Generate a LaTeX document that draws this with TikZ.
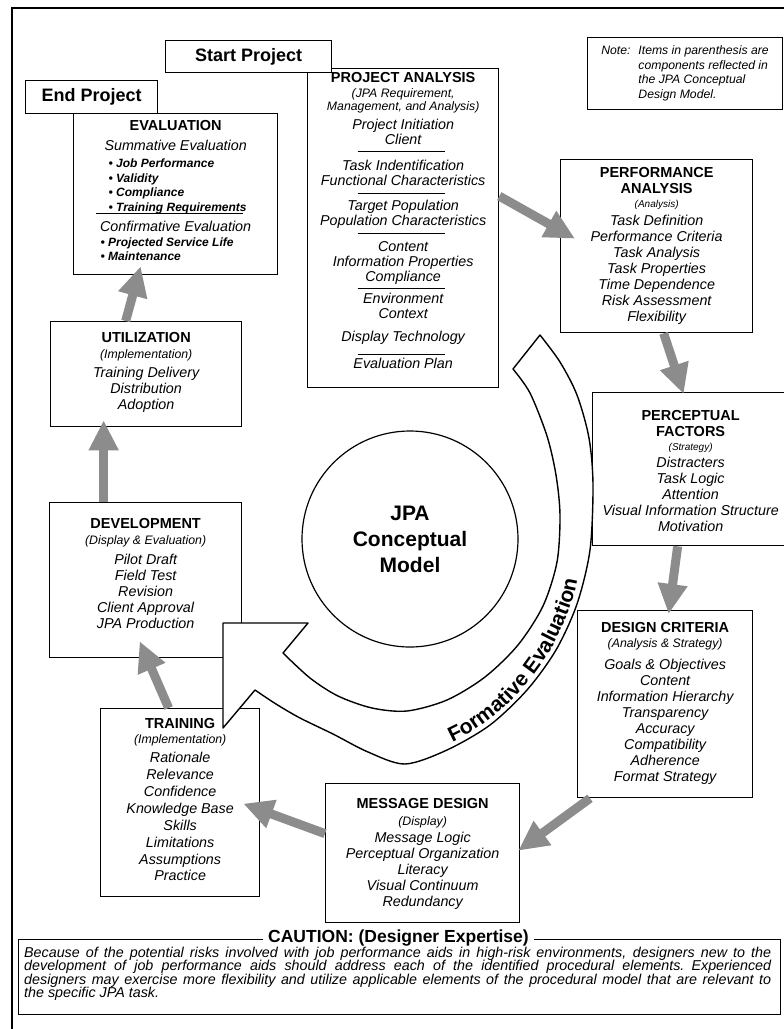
\documentclass[tikz,border=0pt]{standalone}
\usepackage{fontspec}
\setmainfont{Liberation Sans}
\usepackage{tikz}
\usetikzlibrary{arrows.meta,decorations.text}

\newcommand{\stage}[4]{\begin{minipage}[t][#2pt][t]{#1pt}\centering\vspace*{#3pt}#4\end{minipage}}
\newcommand{\hd}{\bfseries\fontsize{14.5}{16}\selectfont}
\newcommand{\pn}{\itshape\fontsize{12.3}{13}\selectfont}
\newcommand{\pns}{\itshape\fontsize{10}{14}\selectfont}
\newcommand{\its}{\itshape\fontsize{14.3}{16}\selectfont}
\newcommand{\itn}{\itshape\fontsize{14.3}{15}\selectfont}
\newcommand{\itw}{\itshape\fontsize{14.3}{16.9}\selectfont}
\newcommand{\bul}{\bfseries\itshape\fontsize{12}{14.5}\selectfont}
\newcommand{\leftblock}[2]{{\leftskip=#1pt\rightskip=0pt plus 1fil\parfillskip=0pt plus 1fil #2\par}}
\newcommand{\jline}[1]{\makebox[747pt][s]{#1}\par}

\begin{document}
\begin{tikzpicture}[x=1pt,y=-1pt,
  stagebox/.style={draw,fill=white,line width=1.3pt,inner sep=0pt,anchor=north west},
  tagbox/.style={draw,fill=white,line width=1.3pt,anchor=north west,font=\bfseries\fontsize{18}{20}\selectfont},
  sepline/.style={line width=0.8pt},
  shadearrow/.style={draw=black!45,line width=9pt,-{Triangle[width=28pt,length=30pt]}}]
\useasboundingbox (0,0) rectangle (784,1029);
\clip (0,0) rectangle (784,1029);

\draw[line width=2pt] (790,8) -- (12,8) -- (12,1035);

\node[stagebox] (pa) at (307,68) {\stage{191}{319}{4}{%
{\hd PROJECT ANALYSIS\par}
\vspace{2pt}{\pn (JPA Requirement,\\Management, and Analysis)\par}
\vspace{4pt}{\itn Project Initiation\\Client\par}
\vspace{11pt}{\itn Task Indentification\\Functional Characteristics\par}
\vspace{10pt}{\itn Target Population\\Population Characteristics\par}
\vspace{11pt}{\itn Content\\Information Properties\\Compliance\par}
\vspace{7pt}{\itn Environment\\Context\par}
\vspace{8pt}{\itn Display Technology\par}
\vspace{12pt}{\itn Evaluation Plan\par}}};
\draw[sepline] ([xshift=-45.5pt,yshift=-83pt]pa.north) -- ++(87,0);
\draw[sepline] ([xshift=-45.5pt,yshift=-125pt]pa.north) -- ++(87,0);
\draw[sepline] ([xshift=-45.5pt,yshift=-165pt]pa.north) -- ++(87,0);
\draw[sepline] ([xshift=-45.5pt,yshift=-220pt]pa.north) -- ++(87,0);
\draw[sepline] ([xshift=-45.5pt,yshift=-286pt]pa.north) -- ++(87,0);

\node[stagebox] (ev) at (73,113) {\stage{204}{161}{7}{%
{\hd EVALUATION\par}
\vspace{4pt}{\its Summative Evaluation\par}
\vspace{2.5pt}\leftblock{35}{\bul • Job Performance\\• Validity\\• Compliance\\• Training Requirements}
\vspace{4pt}{\its Confirmative Evaluation\par}
\vspace{0.5pt}\leftblock{27}{\bul • Projected Service Life\\• Maintenance}}};
\draw[sepline] ([xshift=-80pt,yshift=-100pt]ev.north) -- ++(147,0);

\node[stagebox] (perf) at (560,159) {\stage{192}{173}{8}{%
{\hd PERFORMANCE\\ANALYSIS\par}
{\pns (Analysis)\par}
\vspace{2pt}{\its Task Definition\\Performance Criteria\\Task Analysis\\Task Properties\\Time Dependence\\Risk Assessment\\Flexibility\par}}};

\node[stagebox] (ut) at (50,321) {\stage{191}{105}{11}{%
{\hd UTILIZATION\par}
\vspace{3pt}{\pn (Implementation)\par}
\vspace{3pt}{\its Training Delivery\\Distribution\\Adoption\par}}};

\node[stagebox] (pf) at (592,392) {\stage{196}{153}{18}{%
{\hd PERCEPTUAL\\FACTORS\par}
{\pns (Strategy)\par}
\vspace{1pt}{\its Distracters\\Task Logic\\Attention\\Visual Information Structure\\Motivation\par}}};

\node[stagebox] (dev) at (49,502) {\stage{192}{155}{16}{%
{\hd DEVELOPMENT\par}
\vspace{3pt}{\pn (Display \& Evaluation)\par}
\vspace{4pt}{\its Pilot Draft\\Field Test\\Revision\\Client Approval\\JPA Production\par}}};

\node[stagebox] (dc) at (577,610) {\stage{175}{187}{12}{%
{\hd DESIGN CRITERIA\par}
\vspace{2pt}{\pn (Analysis \& Strategy)\par}
\vspace{6pt}{\its Goals \& Objectives\\Content\\Information Hierarchy\\Transparency\\Accuracy\\Compatibility\\Adherence\\Format Strategy\par}}};

\node[stagebox] (md) at (325,783) {\stage{194}{139}{15}{%
{\hd MESSAGE DESIGN\par}
\vspace{4pt}{\pn (Display)\par}
\vspace{1pt}{\its Message Logic\\Perceptual Organization\\Literacy\\Visual Continuum\\Redundancy\par}}};

\node[stagebox] (tr) at (100,708) {\stage{159}{188}{10}{%
{\hd TRAINING\par}
\vspace{2pt}{\pn (Implementation)\par}
\vspace{2pt}{\itw Rationale\\Relevance\\Confidence\\Knowledge Base\\Skills\\Limitations\\Assumptions\\Practice\par}}};

\node[draw,line width=1pt,anchor=north west,minimum width=195pt,minimum height=72pt,
  font=\itshape\fontsize{12.2}{14.5}\selectfont] (note) at (587,37)
  {\begin{tabular}{@{}l@{\hspace{8pt}}l@{}}Note: & Items in parenthesis are\\ & components reflected in\\ & the JPA Conceptual\\ & Design Model.\end{tabular}};

\node[tagbox,minimum width=166pt,minimum height=32pt] (start) at (165,40) {Start Project};
\node[tagbox,minimum width=132pt,minimum height=33pt] (end) at (25,80) {End Project};

\filldraw[fill=white,line width=1.4pt,line join=round] (513,369) -- plot[smooth] coordinates {(540,335) (560,362) (577,395) (589,438) (593,485) (590,550) (577,604) (556,650) (527,690) (490,725) (447,750) (405,764) (368,752) (333,734) (300,718) (276,704) (255,690)}
  -- (223,728) -- (223,623) -- (308,623)
  -- plot[smooth] coordinates {(283,653) (310,678) (338,696) (372,708) (407,711) (447,700) (485,677) (518,645) (543,606) (557,562) (560,515) (556,475) (547,436) (530,393) (513,369)} -- cycle;
\path[decorate,decoration={text along path,text align=center,
  text={|\bfseries\fontsize{21}{21}\selectfont|Formative Evaluation}}]
  plot[smooth] coordinates {(405,761) (463,737) (513,699) (551,649) (575,591) (583,529)};

\node[draw,circle,line width=1.2pt,minimum size=216pt,inner sep=0pt,align=center,
  font=\bfseries\fontsize{21}{26}\selectfont] (jpa) at (410,539) {JPA\\Conceptual\\Model};

\draw[shadearrow] ([yshift=32pt]pa.east) -- ([xshift=15pt,yshift=7.5pt]perf.west);
\draw[shadearrow] ([xshift=7pt]perf.south) -- ([xshift=-7pt,yshift=-2pt]pf.north);
\draw[shadearrow] ([xshift=-13pt]pf.south) -- ([xshift=3.5pt,yshift=-4pt]dc.north);
\draw[shadearrow] ([xshift=13pt]dc.south west) -- ([xshift=-2pt,yshift=2.5pt]md.east);
\draw[shadearrow] ([yshift=19.5pt]md.west) -- ([xshift=-17pt,yshift=-1pt]tr.east);
\draw[shadearrow] ([xshift=-11.5pt]tr.north) -- ([xshift=-6pt,yshift=17pt]dev.south);
\draw[shadearrow] ([xshift=-42pt]dev.north) -- ([xshift=-42.5pt,yshift=7pt]ut.south);
\draw[shadearrow] ([xshift=-20.5pt]ut.north) -- ([xshift=-35pt,yshift=9pt]ev.south);

\node[draw,line width=1pt,anchor=north west,minimum width=762pt,minimum height=75pt,inner sep=0pt] (caution) at (18,939) {};
\node[fill=white,inner xsep=5pt,inner ysep=0pt,font=\bfseries\fontsize{17.5}{18}\selectfont] (cautiontitle) at (398.5,938.5) {CAUTION: (Designer Expertise)};
\node[anchor=north west,inner sep=0pt,text width=747pt,
  font=\itshape\fontsize{14.3}{13.4}\selectfont] (cautiontext) at (24,947)
  {\lineskiplimit=-10pt \spaceskip=0.278em plus 0.4em minus 0.1em
   \jline{Because of the potential risks involved with job performance aids in high-risk environments, designers new to the}%
   \jline{development of job performance aids should address each of the identified procedural elements. Experienced}%
   \jline{designers may exercise more flexibility and utilize applicable elements of the procedural model that are relevant to}%
   \makebox[747pt][l]{the specific JPA task.}};
\end{tikzpicture}
\end{document}
